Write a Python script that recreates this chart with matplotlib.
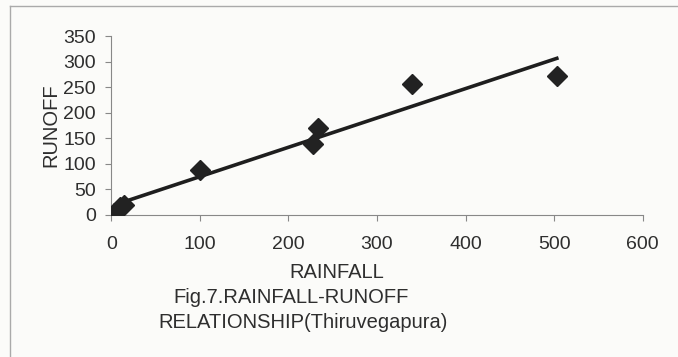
import matplotlib
matplotlib.use('Agg')
from matplotlib import pyplot as plt
from matplotlib.lines import Line2D
import numpy as np

plt.rcParams['font.family'] = ['Liberation Sans', 'DejaVu Sans']

rainfall = [5, 10, 15, 100, 228, 233, 340, 503]
runoff = [5, 15, 20, 88, 138, 170, 256, 271]
x_ticks = [0, 100, 200, 300, 400, 500, 600]
y_ticks = [0, 50, 100, 150, 200, 250, 300, 350]

fig = plt.figure(figsize=(6.78, 3.57), dpi=100)
fig.patch.set_facecolor('#fbfbf9')
ax = fig.add_axes([0.164, 0.398, 0.784, 0.501])
ax.set_facecolor('#fbfbf9')

# linear trendline through the points
k, b = np.polyfit(rainfall, runoff, 1)
xs = np.array([min(rainfall), max(rainfall)])
ax.plot(xs, k * xs + b, color='#1e1e1e', lw=2.6, zorder=2)
ax.plot(rainfall, runoff, 'D', color='#222222', markersize=10, zorder=3)

ax.set_xlim(0, 600)
ax.set_ylim(0, 350)
ax.set_xticks(x_ticks)
ax.set_yticks(y_ticks)
ax.tick_params(labelsize=14, colors='#2e2e2e', length=4, width=0.8, color='#888888')
ax.tick_params(axis='x', pad=11)
ax.tick_params(axis='y', pad=7)
for s in ['top', 'right']:
    ax.spines[s].set_visible(False)
for s in ['left', 'bottom']:
    ax.spines[s].set_color('#888888')
    ax.spines[s].set_linewidth(0.8)

ax.set_ylabel('RUNOFF', fontsize=14.5, color='#2e2e2e', labelpad=2)
fig.text(0.497, 0.238, 'RAINFALL', fontsize=14.5, color='#2e2e2e', ha='center', va='center')
fig.text(0.43, 0.168, 'Fig.7.RAINFALL-RUNOFF', fontsize=14.5, color='#2e2e2e', ha='center', va='center')
fig.text(0.447, 0.096, 'RELATIONSHIP(Thiruvegapura)', fontsize=14.5, color='#2e2e2e', ha='center', va='center')

# outer frame of the scanned chart
fig.add_artist(Line2D([10/678, 10/678], [0, 1-6/357], color='#aaaaaa', lw=1))
fig.add_artist(Line2D([10/678, 1], [1-6/357, 1-6/357], color='#aaaaaa', lw=1))

fig.savefig('out.png', dpi=100, facecolor=fig.get_facecolor())
